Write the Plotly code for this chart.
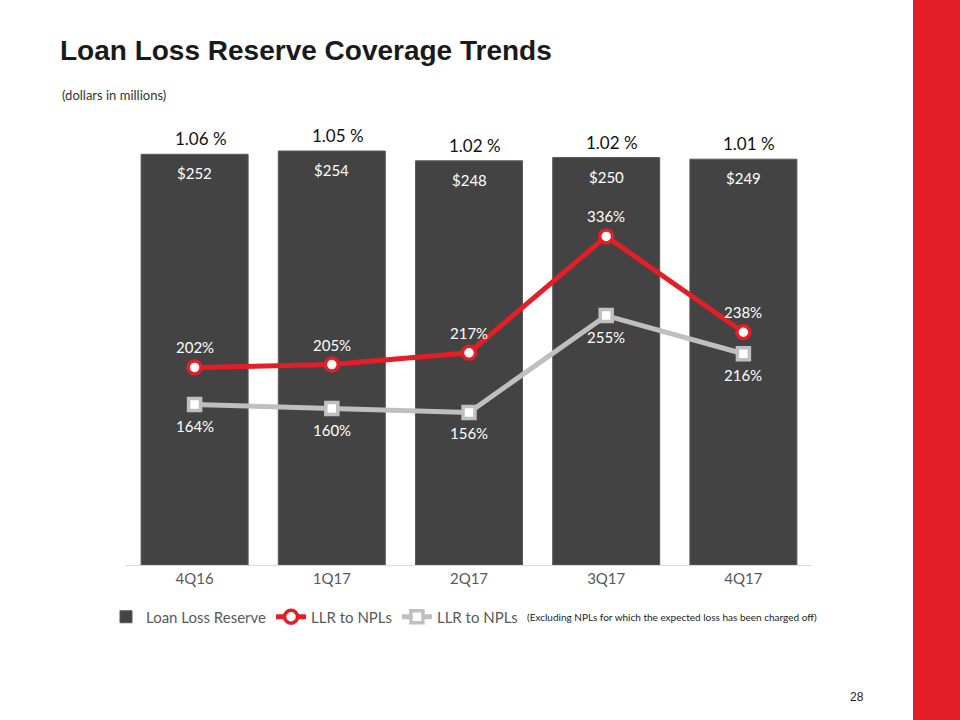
import plotly.graph_objects as go

quarters = ["4Q16", "1Q17", "2Q17", "3Q17", "4Q17"]
reserve = [252, 254, 248, 250, 249]
reserve_pct = ["1.06 %", "1.05 %", "1.02 %", "1.02 %", "1.01 %"]
llr_npl = [202, 205, 217, 336, 238]
llr_npl_ex = [164, 160, 156, 255, 216]

FONT = "Lato"
RED = "#E31E26"
GRAY = "#BFBFBF"
BAR = "#434343"

fig = go.Figure()
fig.add_trace(go.Bar(
    x=quarters, y=reserve, name="Loan Loss Reserve",
    marker=dict(color=BAR, line=dict(color="#5a5a5a", width=1)),
    hoverinfo="skip",
))
fig.add_trace(go.Scatter(
    x=quarters, y=llr_npl, name="LLR to NPLs", yaxis="y2",
    mode="lines+markers",
    line=dict(color=RED, width=5),
    marker=dict(symbol="circle", size=13, color="white", line=dict(color=RED, width=3.5)),
))
fig.add_trace(go.Scatter(
    x=quarters, y=llr_npl_ex, name="LLR to NPLs", yaxis="y2",
    mode="lines+markers",
    line=dict(color=GRAY, width=5),
    marker=dict(symbol="square", size=12, color="white", line=dict(color=GRAY, width=3.5)),
))

annotations = []
for q, v, p in zip(quarters, reserve, reserve_pct):
    annotations.append(dict(x=q, y=v, xref="x", yref="y", text=p, showarrow=False,
                            yanchor="bottom", yshift=3, xshift=6,
                            font=dict(size=17, color="#111111", family=FONT)))
    annotations.append(dict(x=q, y=v, xref="x", yref="y", text=f"${v}", showarrow=False,
                            yanchor="top", yshift=-8,
                            font=dict(size=15, color="white", family=FONT)))
for q, v in zip(quarters, llr_npl):
    annotations.append(dict(x=q, y=v, xref="x", yref="y2", text=f"{v}%", showarrow=False,
                            yanchor="middle", yshift=20,
                            font=dict(size=15, color="white", family=FONT)))
for q, v in zip(quarters, llr_npl_ex):
    annotations.append(dict(x=q, y=v, xref="x", yref="y2", text=f"{v}%", showarrow=False,
                            yanchor="middle", yshift=-21,
                            font=dict(size=15, color="white", family=FONT)))

annotations.append(dict(xref="paper", yref="paper", x=(525 - 126) / 686, y=(565 - 617) / 435,
                        xanchor="left", yanchor="middle", showarrow=False,
                        text="(Excluding NPLs for which the expected loss has been charged off)",
                        font=dict(size=10, color="#222222", family=FONT)))
annotations.append(dict(xref="paper", yref="paper", x=(60 - 126) / 686, y=(565 - 95) / 435,
                        xanchor="left", yanchor="middle", showarrow=False,
                        text="(dollars in millions)",
                        font=dict(size=13, color="#333333", family=FONT)))
annotations.append(dict(xref="paper", yref="paper", x=(857 - 126) / 686, y=(565 - 697) / 435,
                        xanchor="center", yanchor="middle", showarrow=False,
                        text="28", font=dict(size=12, color="#222222", family="Liberation Sans")))

fig.update_layout(
    width=960, height=720,
    paper_bgcolor="white", plot_bgcolor="white",
    margin=dict(l=126, r=148, t=130, b=155),
    bargap=0.22,
    title=dict(text="<b>Loan Loss Reserve Coverage Trends</b>", x=60 / 960, xanchor="left",
               y=1 - 50 / 720, yanchor="middle",
               font=dict(size=28, color="#1a1a1a", family="Liberation Sans")),
    xaxis=dict(showgrid=False, showline=True, linecolor="#d9d9d9", linewidth=1,
               ticks="", tickfont=dict(size=15, color="#595959", family=FONT)),
    yaxis=dict(range=[0, 266.9], visible=False, showgrid=False),
    yaxis2=dict(range=[0, 444.8], visible=False, overlaying="y", side="right", showgrid=False),
    showlegend=True,
    legend=dict(orientation="h", x=(106 - 126) / 686, xanchor="left", y=(565 - 617) / 435,
                yanchor="middle", font=dict(size=15, color="#595959", family=FONT),
                itemwidth=30, tracegroupgap=0),
    annotations=annotations,
    shapes=[dict(type="rect", xref="paper", yref="paper",
                 x0=(913 - 126) / 686, x1=(980 - 126) / 686,
                 y0=(565 - 740) / 435, y1=(565 + 20) / 435,
                 fillcolor=RED, line=dict(width=0), layer="above")],
)

fig.write_html("out.html", config={"displayModeBar": False})

# remove default page margin so the 960x720 figure fills the window exactly
with open("out.html", "r", encoding="utf-8") as f:
    html = f.read()
html = html.replace("<head>", "<head><style>html,body{margin:0;padding:0;overflow:hidden;}</style>", 1)
with open("out.html", "w", encoding="utf-8") as f:
    f.write(html)
